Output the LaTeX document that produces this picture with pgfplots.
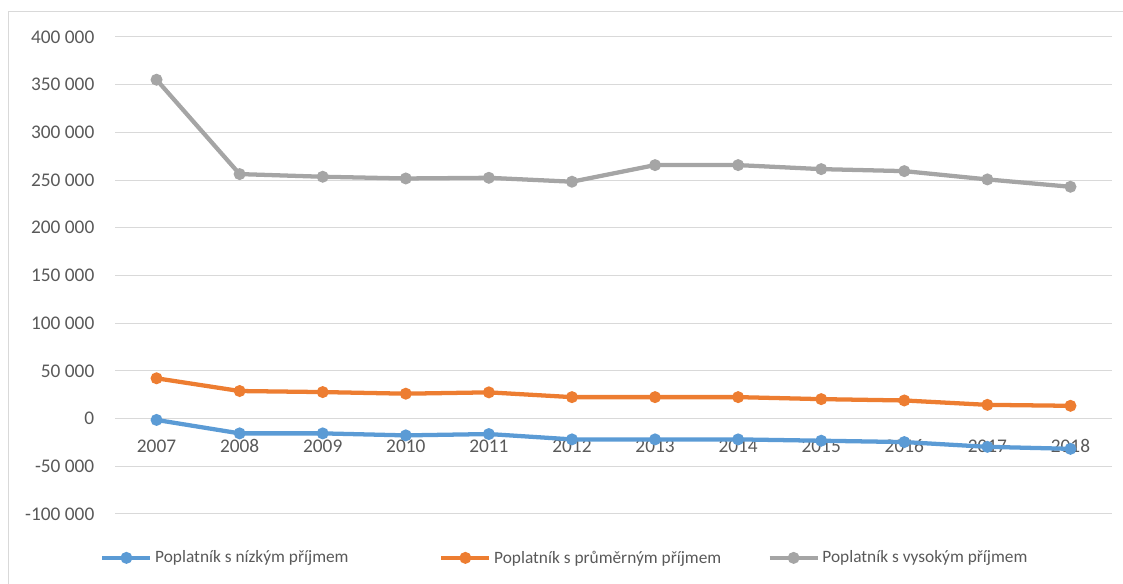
\documentclass[border=0pt]{standalone}
\usepackage{pgfplots}
\pgfplotsset{compat=1.18}
\usepackage{fontspec}
\setmainfont{Carlito}
\definecolor{cblue}{HTML}{5B9BD5}
\definecolor{corange}{HTML}{ED7D31}
\definecolor{cgray}{HTML}{A5A5A5}
\definecolor{ctext}{HTML}{595959}
\definecolor{cgrid}{HTML}{D9D9D9}
\begin{document}
\begin{tikzpicture}[x=0.75pt,y=0.75pt]
\useasboundingbox (0,0) rectangle (1123,584);
\draw[cgrid, line width=0.75pt] (8,0) -- (8,572) -- (1123,572);
\begin{axis}[
 at={(86.25pt,52.5pt)}, anchor=south west,
 scale only axis, width=747.75pt, height=357.75pt,
 xmin=-0.5, xmax=11.5, ymin=-100000, ymax=400000,
 enlargelimits=false,
 scaled y ticks=false,
 axis x line=middle, axis y line=left, axis line style={draw=none},
 major tick length=0pt,
 xtick={0,1,2,3,4,5,6,7,8,9,10,11},
 xticklabels={2007,2008,2009,2010,2011,2012,2013,2014,2015,2016,2017,2018},
 ytick={-100000,-50000,0,50000,100000,150000,200000,250000,300000,350000,400000},
 yticklabels={-100 000,-50 000,0,50 000,100 000,150 000,200 000,250 000,300 000,350 000,400 000},
 ymajorgrids, grid style={cgrid, line width=0.75pt},
 tick label style={font=\fontsize{14.5}{16}\selectfont, text=ctext},
 yticklabel style={xshift=-12pt},
 xticklabel style={anchor=north, text height=10pt, text depth=0pt, yshift=-12pt},
 clip=false,
 legend style={at={(-0.015,-0.092)}, anchor=west, draw=none, fill=none,
   inner sep=0pt, font=\fontsize{13}{15}\selectfont, text=ctext,
   /tikz/every even column/.append style={column sep=0pt}},
 legend columns=3,
 legend cell align=left,
 legend image code/.code={\draw[mark repeat=2,mark phase=2,#1] plot coordinates {(0pt,0pt)(18pt,0pt)(36pt,0pt)};},
 every axis plot/.append style={line width=3.2pt, mark=*, mark size=2.8pt},
]
\addplot[cblue, mark options={fill=cblue}] coordinates {
(0,-1400) (1,-15500) (2,-15500) (3,-17600) (4,-16200) (5,-21800)
(6,-21800) (7,-21800) (8,-23200) (9,-24600) (10,-29600) (11,-31700)};
\addlegendentry{\makebox[211pt][l]{Poplatník s nízkým příjmem}}
\addplot[corange, mark options={fill=corange}] coordinates {
(0,42250) (1,28900) (2,27800) (3,26100) (4,27500) (5,22500)
(6,22500) (7,22500) (8,20400) (9,19000) (10,14400) (11,13400)};
\addlegendentry{\makebox[203pt][l]{Poplatník s průměrným příjmem}}
\addplot[cgray, mark options={fill=cgray}] coordinates {
(0,355200) (1,256300) (2,253500) (3,251700) (4,252400) (5,248300)
(6,265700) (7,265700) (8,261500) (9,259400) (10,250700) (11,243000)};
\addlegendentry{Poplatník s vysokým příjmem}
\end{axis}
\end{tikzpicture}
\end{document}
